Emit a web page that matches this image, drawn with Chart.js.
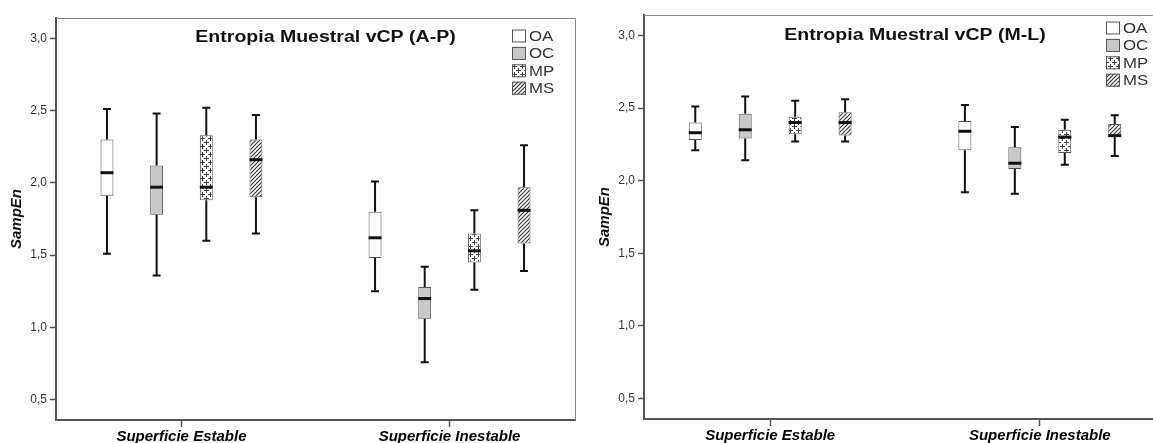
<!DOCTYPE html>
<html>
<head>
<meta charset="utf-8">
<script src="https://cdn.jsdelivr.net/npm/chart.js@4.4.1/dist/chart.umd.min.js"></script>
<style>
    html, body { margin: 0; padding: 0; background: #fff; overflow: hidden; }
    #wrap { position: relative; width: 1153px; height: 443px; overflow: hidden; }
    #left { position: absolute; left: 0; top: 0; }
    #right { position: absolute; left: 580px; top: 0; }
</style>
</head>
<body>
<div id="wrap">
    <canvas id="left" width="578" height="443"></canvas>
    <canvas id="right" width="589" height="443"></canvas>
</div>
<script>
const categories = ["Superficie Estable", "Superficie Inestable"];
const groups = ["OA", "OC", "MP", "MS"];
const yTicks = [0.5, 1.0, 1.5, 2.0, 2.5, 3.0];

// [min, Q1, median, Q3, max] for each category
const apOA = [[1.51, 1.91, 2.07, 2.30, 2.51], [1.25, 1.48, 1.62, 1.80, 2.01]];
const apOC = [[1.36, 1.78, 1.97, 2.12, 2.48], [0.76, 1.06, 1.20, 1.28, 1.42]];
const apMP = [[1.60, 1.88, 1.97, 2.33, 2.52], [1.26, 1.45, 1.53, 1.65, 1.81]];
const apMS = [[1.65, 1.90, 2.16, 2.30, 2.47], [1.39, 1.58, 1.81, 1.97, 2.26]];

const mlOA = [[2.21, 2.28, 2.33, 2.40, 2.51], [1.92, 2.21, 2.34, 2.41, 2.52]];
const mlOC = [[2.14, 2.29, 2.35, 2.46, 2.58], [1.91, 2.08, 2.12, 2.23, 2.37]];
const mlMP = [[2.27, 2.32, 2.40, 2.44, 2.55], [2.11, 2.19, 2.30, 2.35, 2.42]];
const mlMS = [[2.27, 2.31, 2.40, 2.47, 2.56], [2.17, 2.30, 2.31, 2.39, 2.45]];

const FONT = "'Liberation Sans', Arial, sans-serif";
// space between plot edge and first/last category centre, as a fraction of the category step
const EDGE = 0.468;

function crossPattern() {
    let c = document.createElement("canvas");
    c.width = 8; c.height = 8;
    let g = c.getContext("2d");
    g.fillStyle = "#fff";
    g.fillRect(0, 0, 8, 8);
    g.fillStyle = "#444";
    g.fillRect(2, 0, 1, 5); g.fillRect(0, 2, 5, 1);
    g.fillRect(6, 4, 1, 4); g.fillRect(4, 6, 4, 1);
    g.fillRect(6, 0, 1, 1); g.fillRect(0, 6, 1, 1);
    return g.createPattern(c, "repeat");
}

function hatchPattern() {
    let c = document.createElement("canvas");
    c.width = 4; c.height = 4;
    let g = c.getContext("2d");
    g.fillStyle = "#fff";
    g.fillRect(0, 0, 4, 4);
    g.strokeStyle = "#333";
    g.lineWidth = 1.1;
    g.beginPath();
    g.moveTo(0, 4); g.lineTo(4, 0);
    g.moveTo(-1, 1); g.lineTo(1, -1);
    g.moveTo(3, 5); g.lineTo(5, 3);
    g.stroke();
    return g.createPattern(c, "repeat");
}

const fills = ["#ffffff", "#c8c8c8", crossPattern(), hatchPattern()];

// whiskers + median drawn on top of the floating bars (the boxes)
const whiskers = {
    id: "whiskers",
    afterDatasetsDraw(chart) {
        let ctx = chart.ctx;
        let y = chart.scales.y;
        chart.data.datasets.forEach((ds, i) => {
            chart.getDatasetMeta(i).data.forEach((bar, j) => {
                let [lo, q1, med, q3, hi] = ds.stats[j];
                let x = bar.x, half = bar.width / 2;
                ctx.save();
                ctx.strokeStyle = "#111";
                ctx.lineWidth = 2;
                ctx.beginPath();
                ctx.moveTo(x, y.getPixelForValue(hi));
                ctx.lineTo(x, y.getPixelForValue(q3));
                ctx.moveTo(x, y.getPixelForValue(q1));
                ctx.lineTo(x, y.getPixelForValue(lo));
                ctx.moveTo(x - 4, y.getPixelForValue(hi));
                ctx.lineTo(x + 4, y.getPixelForValue(hi));
                ctx.moveTo(x - 4, y.getPixelForValue(lo));
                ctx.lineTo(x + 4, y.getPixelForValue(lo));
                ctx.stroke();
                ctx.lineWidth = 3;
                ctx.beginPath();
                ctx.moveTo(x - half, y.getPixelForValue(med));
                ctx.lineTo(x + half, y.getPixelForValue(med));
                ctx.stroke();
                ctx.restore();
            });
        });
    }
};

// frame, title and legend inside the plot area
const decor = {
    id: "decor",
    afterDraw(chart, args, opts) {
        let ctx = chart.ctx;
        let a = chart.chartArea;
        ctx.save();
        ctx.strokeStyle = "#888";
        ctx.lineWidth = 1;
        ctx.beginPath();
        ctx.moveTo(a.left, a.top + 0.5);
        ctx.lineTo(a.right + 0.5, a.top + 0.5);
        ctx.lineTo(a.right + 0.5, a.bottom);
        ctx.stroke();

        ctx.save();
        ctx.translate((a.left + a.right) / 2 + 10, a.top + opts.titleY);
        ctx.scale(1.22, 1);
        ctx.font = "bold 16px " + FONT;
        ctx.fillStyle = "#111";
        ctx.textAlign = "center";
        ctx.textBaseline = "alphabetic";
        ctx.fillText(opts.title, 0, 0);
        ctx.restore();

        chart.data.datasets.forEach((ds, i) => {
            let lx = a.right - opts.legendRight;
            let ly = a.top + opts.legendTop + i * 17.4;
            ctx.fillStyle = ds.backgroundColor;
            ctx.fillRect(lx, ly - 6.5, 14, 13);
            ctx.strokeStyle = "#555";
            ctx.strokeRect(lx + 0.5, ly - 6, 13, 12);
            ctx.save();
            ctx.translate(lx + 17, ly + 5);
            ctx.scale(1.2, 1);
            ctx.font = "14px " + FONT;
            ctx.fillStyle = "#333";
            ctx.textBaseline = "alphabetic";
            ctx.fillText(ds.label, 0, 0);
            ctx.restore();
        });
        ctx.restore();
    }
};

function makeChart(id, title, series, cfg) {
    let datasets = groups.map((g, i) => ({
        label: g,
        data: series[i].map(s => [s[1], s[3]]),
        stats: series[i],
        backgroundColor: fills[i],
        borderColor: "#555",
        borderWidth: 1,
        borderSkipped: false,
        categoryPercentage: 0.741,
        barPercentage: 0.26
    }));

    new Chart(document.getElementById(id), {
        type: "bar",
        data: { labels: categories, datasets: datasets },
        plugins: [whiskers, decor],
        options: {
            responsive: false,
            animation: false,
            layout: { padding: { top: cfg.top, right: 3, left: 0, bottom: 0 } },
            plugins: {
                legend: { display: false },
                tooltip: { enabled: false },
                decor: {
                    title: title,
                    titleY: cfg.titleY,
                    legendRight: cfg.legendRight,
                    legendTop: cfg.legendTop
                }
            },
            scales: {
                x: {
                    afterFit: s => { s.height = cfg.xHeight; },
                    afterBuildTicks: s => {
                        // the two categories sit a bit closer to the frame than half a step
                        s._startValue = -EDGE;
                        s._valueRange = categories.length - 1 + 2 * EDGE;
                    },
                    border: { display: true, color: "#555", width: 2 },
                    grid: { display: true, drawOnChartArea: false, offset: false, tickLength: 7, tickColor: "#555", tickWidth: 1.5 },
                    ticks: { padding: 1, color: "#000", font: { family: FONT, size: 15, weight: "bold", style: "italic" } }
                },
                y: {
                    min: 0.36,
                    max: 3.14,
                    afterFit: s => { s.width = cfg.yWidth; },
                    afterBuildTicks: s => { s.ticks = yTicks.map(v => ({ value: v })); },
                    border: { display: true, color: "#555", width: 2 },
                    grid: { display: true, drawOnChartArea: false, tickLength: 6, tickColor: "#555", tickWidth: 1.5 },
                    ticks: {
                        padding: 3,
                        color: "#333",
                        font: { family: FONT, size: 12 },
                        callback: v => v.toFixed(1).replace(".", ",")
                    },
                    title: {
                        display: true,
                        text: "SampEn",
                        color: "#111",
                        font: { family: FONT, size: 15, weight: "bold", style: "italic" },
                        padding: { top: cfg.yTitlePad, bottom: 0 }
                    }
                }
            }
        }
    });
}

makeChart("left", "Entropia Muestral vCP (A-P)", [apOA, apOC, apMP, apMS],
    { top: 18, xHeight: 23, yWidth: 56, yTitlePad: 8, titleY: 24, legendRight: 63, legendTop: 18 });
makeChart("right", "Entropia Muestral vCP (M-L)", [mlOA, mlOC, mlMP, mlMS],
    { top: 15, xHeight: 24, yWidth: 64, yTitlePad: 16, titleY: 25, legendRight: 60, legendTop: 13 });
</script>
</body>
</html>
